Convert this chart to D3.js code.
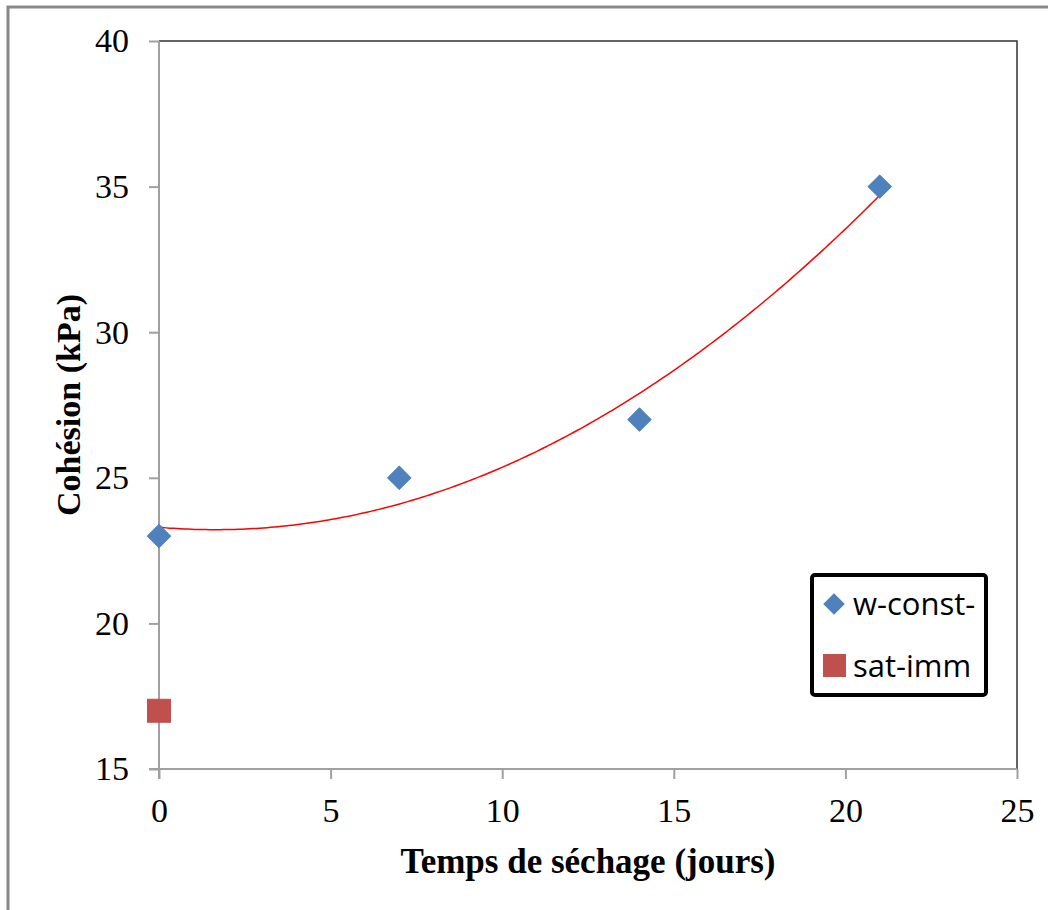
<!DOCTYPE html>
<html>
<head>
<meta charset="utf-8">
<script src="https://cdn.jsdelivr.net/npm/d3@7"></script>
<style>
  html, body { margin: 0; padding: 0; background: #fff; }
  svg { display: block; }
</style>
</head>
<body>
<svg id="chart" width="1048" height="910"></svg>
<script>
// ---- Data ----
const wConstX = [0, 7, 14, 21];
const wConstY = [23, 25, 27, 35];
const satImmX = [0];
const satImmY = [17];
const seriesNames = ["w-const-", "sat-imm"];
const xTicks = [0, 5, 10, 15, 20, 25];
const yTicks = [15, 20, 25, 30, 35, 40];
const xTitle = "Temps de séchage (jours)";
const yTitle = "Cohésion (kPa)";

// ---- Layout ----
const svg = d3.select("#chart");
const pL = 159, pR = 1017, pT = 41, pB = 769;
const x = d3.scaleLinear().domain([0, 25]).range([pL, pR]);
const y = d3.scaleLinear().domain([15, 40]).range([pB, pT]);

// outer frame
svg.append("rect").attr("x", 8).attr("y", 7).attr("width", 1080).attr("height", 940)
  .attr("fill", "none").attr("stroke", "#888").attr("stroke-width", 3);

// plot area border (top & right dark)
svg.append("path")
  .attr("d", `M${pL},${pT}H${pR}V${pB}`)
  .attr("fill", "none").attr("stroke", "#333").attr("stroke-width", 1.5);

// axes
const xAxis = d3.axisBottom(x).tickValues(xTicks).tickSize(10).tickPadding(12).tickFormat(d3.format("d"));
const yAxis = d3.axisLeft(y).tickValues(yTicks).tickSize(10).tickPadding(20).tickFormat(d3.format("d"));

const gx = svg.append("g").attr("transform", `translate(0,${pB})`).call(xAxis);
const gy = svg.append("g").attr("transform", `translate(${pL},0)`).call(yAxis);
[gx, gy].forEach(g => {
  g.select(".domain").attr("stroke", "#a0a0a0").attr("stroke-width", 2);
  g.selectAll(".tick line").attr("stroke", "#a0a0a0").attr("stroke-width", 2);
  g.selectAll(".tick text")
    .attr("fill", "#000")
    .style("font-family", "'Liberation Serif', 'Times New Roman', serif")
    .style("font-size", "34px");
});
gx.select(".domain").attr("d", `M${pL - 10},0H${pR}`);
gy.select(".domain").attr("d", `M0,${pT}V${pB + 10}`);
gx.selectAll(".tick text").attr("dy", "0.71em").attr("y", 29);

// ---- Polynomial (order 2) trendline via least squares ----
function polyFit2(xs, ys) {
  const n = xs.length;
  let s = [0, 0, 0, 0, 0], t = [0, 0, 0];
  for (let i = 0; i < n; i++) {
    for (let k = 0; k <= 4; k++) s[k] += Math.pow(xs[i], k);
    for (let k = 0; k <= 2; k++) t[k] += ys[i] * Math.pow(xs[i], k);
  }
  const M = [[s[0], s[1], s[2], t[0]], [s[1], s[2], s[3], t[1]], [s[2], s[3], s[4], t[2]]];
  for (let i = 0; i < 3; i++) {
    for (let j = i + 1; j < 3; j++) {
      const f = M[j][i] / M[i][i];
      for (let k = i; k < 4; k++) M[j][k] -= f * M[i][k];
    }
  }
  const c = [0, 0, 0];
  for (let i = 2; i >= 0; i--) {
    let v = M[i][3];
    for (let k = i + 1; k < 3; k++) v -= M[i][k] * c[k];
    c[i] = v / M[i][i];
  }
  return c;
}
const coef = polyFit2(wConstX, wConstY);
const xmin = d3.min(wConstX), xmax = d3.max(wConstX);
const trendPts = d3.range(0, 201).map(i => {
  const xv = xmin + (xmax - xmin) * i / 200;
  return [xv, coef[0] + coef[1] * xv + coef[2] * xv * xv];
});
svg.append("path")
  .datum(trendPts)
  .attr("d", d3.line().x(d => x(d[0])).y(d => y(d[1])))
  .attr("fill", "none").attr("stroke", "#ff0000").attr("stroke-width", 1.5);

// ---- Markers ----
const diamond = d3.symbol().type(d3.symbolSquare).size(270);
svg.append("g").selectAll("path").data(wConstX.map((v, i) => [v, wConstY[i]]))
  .join("path")
  .attr("d", diamond)
  .attr("transform", d => `translate(${x(d[0])},${y(d[1])}) rotate(45)`)
  .attr("fill", "#4f81bd").attr("stroke", "#4f81bd").attr("stroke-width", 1).attr("stroke-linejoin", "round");

svg.append("g").selectAll("rect").data(satImmX.map((v, i) => [v, satImmY[i]]))
  .join("rect")
  .attr("x", d => x(d[0]) - 11.5).attr("y", d => y(d[1]) - 11.5)
  .attr("width", 23).attr("height", 23)
  .attr("fill", "#c0504d").attr("stroke", "#c0504d").attr("stroke-width", 1);

// ---- Axis titles ----
svg.append("text")
  .attr("x", (pL + pR) / 2).attr("y", 873)
  .attr("text-anchor", "middle")
  .style("font-family", "'Liberation Serif', 'Times New Roman', serif")
  .style("font-weight", "bold").style("font-size", "35px")
  .text(xTitle);
svg.append("text")
  .attr("transform", `translate(80,${(pT + pB) / 2}) rotate(-90)`)
  .attr("text-anchor", "middle")
  .style("font-family", "'Liberation Serif', 'Times New Roman', serif")
  .style("font-weight", "bold").style("font-size", "34px")
  .text(yTitle);

// ---- Legend ----
const lg = svg.append("g");
lg.append("rect").attr("x", 812).attr("y", 575).attr("width", 174).attr("height", 120)
  .attr("rx", 3).attr("fill", "#fff").attr("stroke", "#000").attr("stroke-width", 4);
const legendColors = ["#4f81bd", "#c0504d"];
seriesNames.forEach((name, i) => {
  const cy = 604 + i * 62;
  if (i === 0) {
    lg.append("path").attr("d", d3.symbol().type(d3.symbolSquare).size(230))
      .attr("transform", `translate(834,${cy}) rotate(45)`)
      .attr("fill", legendColors[i]);
  } else {
    lg.append("rect").attr("x", 823).attr("y", cy - 12).attr("width", 23).attr("height", 23)
      .attr("fill", legendColors[i]);
  }
  lg.append("text").attr("x", 853).attr("y", cy + 11)
    .style("font-family", "'Open Sans', 'Liberation Sans', sans-serif")
    .style("font-size", "31px").attr("fill", "#000")
    .text(name);
});
</script>
</body>
</html>
